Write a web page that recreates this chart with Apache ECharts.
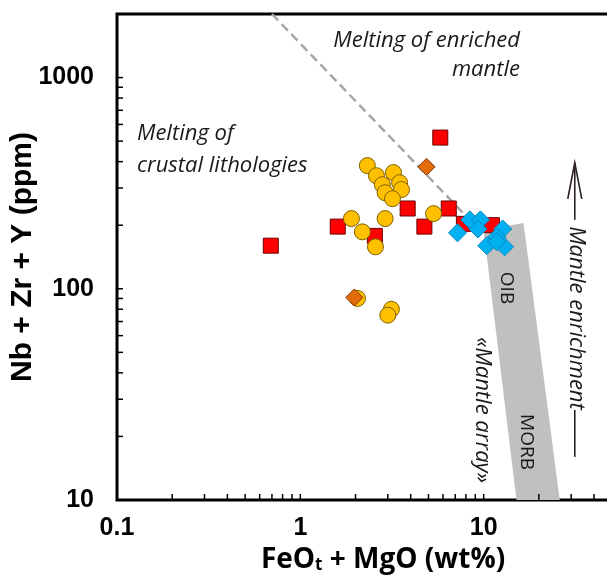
<!DOCTYPE html>
<html><head><meta charset="utf-8">
<script src="https://cdn.jsdelivr.net/npm/echarts@6/dist/echarts.min.js"></script>
<style>html,body{margin:0;padding:0;background:#fff}#c{width:607px;height:579px}</style>
</head><body><div id="c"></div>
<script>
// ---- data ----
const RED_X = [0.69, 5.8, 1.6, 2.55, 3.85, 4.75, 6.45, 7.8, 11.1];
const RED_Y = [160, 520, 197, 178, 240, 197, 240, 203, 200];
const YELLOW_X = [2.32, 2.6, 3.22, 3.48, 2.8, 2.9, 3.56, 3.18, 1.9, 2.18, 2.9, 2.57, 5.33, 2.05, 3.14, 3.0];
const YELLOW_Y = [383, 343, 355, 318, 311, 285, 295, 267, 215, 186, 215, 158, 227, 90, 80, 75];
const ORANGE_X = [1.97, 4.88];
const ORANGE_Y = [91, 378];
const BLUE_X = [7.2, 8.4, 9.6, 9.3, 12.7, 11.8, 10.4, 13.0, 11.8];
const BLUE_Y = [184, 212, 212, 192, 192, 176, 160, 158, 167];
const BAND_X = [10, 16.5, 26, 15.1];
const BAND_Y = [190, 205, 10, 10];
const TREND_X = [0.7, 8.4];
const TREND_Y = [2000, 212];
const ARROW_X = [31.4];
const ARROW_Y = [395, 212, 26.7, 16];
const X_TICKS = [0.2, 0.3, 0.4, 0.5, 0.6, 0.7, 0.8, 0.9, 1, 2, 3, 4, 5, 6, 7, 8, 9, 10, 20, 30, 40, 50, 60, 70, 80, 90];
const Y_TICKS = [20, 30, 40, 50, 60, 70, 80, 90, 100, 200, 300, 400, 500, 600, 700, 800, 900, 1000];
const X_LABELS = [0.1, 1, 10];
const Y_LABELS = [10, 100, 1000];
const X_RANGE = [0.1, 100];
const Y_RANGE = [10, 2000];

const zip = (xs, ys) => xs.map((x, i) => [x, ys[i]]);
const pick = (list) => (v) => { const r = list.find(l => Math.abs(l - v) / l < 1e-6); return r !== undefined ? String(r) : ''; };

const chart = echarts.init(document.getElementById('c'), null, {renderer: 'canvas'});
const tickStyle = {stroke: '#000', lineWidth: 1.5};
const italic = 'italic 22px "Open Sans"';

chart.setOption({
  animation: false,
  backgroundColor: '#fff',
  grid: {left: 117, top: 14, right: -60, bottom: 79, show: true, borderColor: '#000', borderWidth: 3,
         containLabel: false, outerBoundsMode: 'none'},
  xAxis: {
    type: 'log', logBase: 10, min: X_RANGE[0], max: X_RANGE[1],
    axisLine: {show: false}, axisTick: {show: false}, splitLine: {show: false},
    axisLabel: {formatter: pick(X_LABELS), margin: 16, color: '#000', fontFamily: 'Liberation Sans', fontWeight: 'bold', fontSize: 25},
    name: 'FeO{s|t} + MgO (wt%)', nameLocation: 'middle', nameGap: 42,
    nameTextStyle: {color: '#000', fontFamily: 'Open Sans', fontWeight: 'bold', fontSize: 28, padding: [0, 18, 0, 0],
      rich: {s: {fontFamily: 'Open Sans', fontWeight: 'bold', fontSize: 17, color: '#000', verticalAlign: 'bottom', padding: [10, 0, 0, 0]}}}
  },
  yAxis: {
    type: 'log', logBase: 10, min: Y_RANGE[0], max: Y_RANGE[1],
    axisLine: {show: false}, axisTick: {show: false}, splitLine: {show: false},
    axisLabel: {formatter: pick(Y_LABELS), margin: 23, color: '#000', fontFamily: 'Liberation Sans', fontWeight: 'bold', fontSize: 25},
    name: 'Nb + Zr + Y (ppm)', nameLocation: 'middle', nameGap: 79, nameMoveOverlap: false,
    nameTextStyle: {color: '#000', fontFamily: 'Liberation Sans', fontWeight: 'bold', fontSize: 30}
  },
  graphic: [
    {type: 'text', x: 520, y: 41, style: {text: 'Melting of enriched', font: italic, fill: '#1a1a1a', align: 'right', verticalAlign: 'middle'}},
    {type: 'text', x: 520, y: 70, style: {text: 'mantle', font: italic, fill: '#1a1a1a', align: 'right', verticalAlign: 'middle'}},
    {type: 'text', x: 137, y: 134, style: {text: 'Melting of', font: italic, fill: '#1a1a1a', align: 'left', verticalAlign: 'middle'}},
    {type: 'text', x: 137, y: 166, style: {text: 'crustal lithologies', font: italic, fill: '#1a1a1a', align: 'left', verticalAlign: 'middle'}},
    {type: 'text', x: 506, y: 288, rotation: -Math.PI / 2, style: {text: 'OIB', font: '19px "Open Sans"', fill: '#1a1a1a', align: 'center', verticalAlign: 'middle'}, z: 10},
    {type: 'text', x: 526, y: 442, rotation: -Math.PI / 2, style: {text: 'MORB', font: '19px "Open Sans"', fill: '#1a1a1a', align: 'center', verticalAlign: 'middle'}, z: 10},
    {type: 'text', x: 482, y: 410, rotation: -Math.PI / 2, style: {text: '«Mantle array»', font: italic, fill: '#1a1a1a', align: 'center', verticalAlign: 'middle'}},
    {type: 'text', x: 576, y: 318, rotation: -Math.PI / 2, style: {text: 'Mantle enrichment', font: italic, fill: '#1a1a1a', align: 'center', verticalAlign: 'middle'}}
  ],
  series: [
    {type: 'custom', z: 1, silent: true, data: zip(BAND_X, BAND_Y),
     renderItem: (p, api) => {
       if (p.dataIndex !== 0) return null;
       const pts = BAND_X.map((x, i) => api.coord([x, BAND_Y[i]]));
       return {type: 'polygon', shape: {points: pts}, style: {fill: '#c0c0c0'}};
     }},
    {type: 'line', z: 2, silent: true, data: zip(TREND_X, TREND_Y), symbol: 'none',
     lineStyle: {color: '#a6a6a6', width: 2.5, type: [9, 5]}},
    {type: 'custom', z: 3, silent: true, data: X_TICKS.map(v => [v, Y_RANGE[0]]),
     renderItem: (p, api) => {
       const c = api.coord([api.value(0), Y_RANGE[0]]);
       return {type: 'line', shape: {x1: c[0], y1: c[1], x2: c[0], y2: c[1] - 6}, style: tickStyle};
     }},
    {type: 'custom', z: 3, silent: true, data: Y_TICKS.map(v => [X_RANGE[0], v]),
     renderItem: (p, api) => {
       const c = api.coord([X_RANGE[0], api.value(1)]);
       return {type: 'line', shape: {x1: c[0], y1: c[1], x2: c[0] + 6, y2: c[1]}, style: tickStyle};
     }},
    {type: 'custom', z: 3, silent: true, data: [[ARROW_X[0], ARROW_Y[0]]],
     renderItem: (p, api) => {
       const t = api.coord([ARROW_X[0], ARROW_Y[0]]);
       const a = api.coord([ARROW_X[0], ARROW_Y[1]]);
       const b = api.coord([ARROW_X[0], ARROW_Y[2]]);
       const c = api.coord([ARROW_X[0], ARROW_Y[3]]);
       const st = {stroke: '#2b2020', lineWidth: 1.6};
       return {type: 'group', children: [
         {type: 'line', shape: {x1: t[0], y1: t[1], x2: a[0], y2: a[1]}, style: st},
         {type: 'line', shape: {x1: b[0], y1: b[1], x2: c[0], y2: c[1]}, style: st},
         {type: 'polyline', shape: {points: [[t[0] - 7, t[1] + 36], [t[0], t[1]], [t[0] + 7, t[1] + 36]]}, style: Object.assign({fill: null}, st)}
       ]};
     }},
    {type: 'scatter', z: 4, data: zip(RED_X, RED_Y), symbol: 'rect', symbolSize: 15,
     itemStyle: {color: '#ff0000', borderColor: '#6b0000', borderWidth: 1, opacity: 1}},
    {type: 'scatter', z: 5, data: zip(YELLOW_X, YELLOW_Y), symbol: 'circle', symbolSize: 16,
     itemStyle: {color: '#ffc000', borderColor: '#7f6000', borderWidth: 1, opacity: 1}},
    {type: 'scatter', z: 6, data: zip(ORANGE_X, ORANGE_Y), symbol: 'diamond', symbolSize: 17,
     itemStyle: {color: '#e46c0a', borderColor: '#7a3300', borderWidth: 1, opacity: 1}},
    {type: 'scatter', z: 7, data: zip(BLUE_X, BLUE_Y), symbol: 'diamond', symbolSize: 18,
     itemStyle: {color: '#00b0f0', borderColor: '#0a8ac0', borderWidth: 1, opacity: 1}}
  ]
});
</script></body></html>
